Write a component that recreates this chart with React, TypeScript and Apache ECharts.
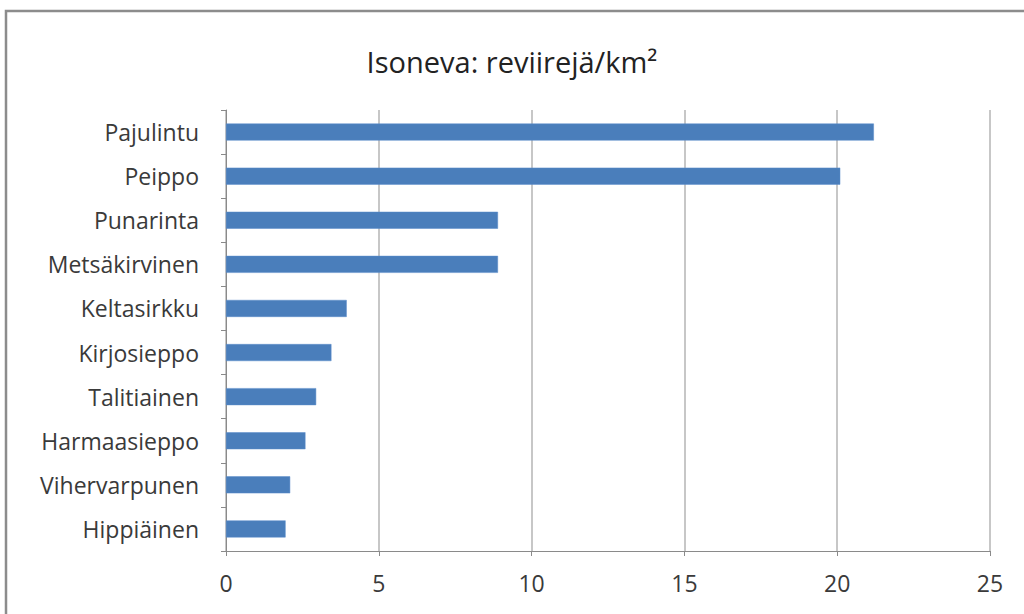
import React, { useEffect, useRef } from "react";
import * as echarts from "echarts";

const categories = [
  "Pajulintu",
  "Peippo",
  "Punarinta",
  "Metsäkirvinen",
  "Keltasirkku",
  "Kirjosieppo",
  "Talitiainen",
  "Harmaasieppo",
  "Vihervarpunen",
  "Hippiäinen",
];
const values = [21.2, 20.1, 8.9, 8.9, 3.95, 3.45, 2.95, 2.6, 2.1, 1.95];
const titleText = "Isoneva: reviirejä/km²";

export default function App() {
  const ref = useRef<HTMLDivElement>(null);
  useEffect(() => {
    if (!ref.current) return;
    const chart = echarts.init(ref.current, undefined, { renderer: "svg" });
    const font = "'Open Sans', 'Noto Sans', sans-serif";
    chart.setOption({
      animation: false,
      backgroundColor: "#ffffff",
      title: {
        text: titleText,
        left: "center",
        top: 42,
        textStyle: { fontFamily: font, fontSize: 29, fontWeight: "normal", color: "#222222" },
      },
      graphic: [
        {
          type: "rect",
          shape: { x: 6, y: 11, width: 1040, height: 640 },
          style: { fill: "none", stroke: "#8c8c8c", lineWidth: 2.5 },
          silent: true,
        },
      ],
      grid: { left: 226, right: 34, top: 110, bottom: 63 },
      xAxis: {
        type: "value",
        min: 0,
        max: 25,
        interval: 5,
        axisLine: { show: true, lineStyle: { color: "#8a8a8a", width: 1 } },
        axisTick: { show: true, length: 5, lineStyle: { color: "#8a8a8a" } },
        splitLine: { show: true, lineStyle: { color: "#b4b4b4", width: 1.5 } },
        axisLabel: { fontFamily: font, fontSize: 23, color: "#3a3a3a", margin: 20 },
      },
      yAxis: {
        type: "category",
        data: categories,
        inverse: true,
        axisLine: { show: true, lineStyle: { color: "#8a8a8a", width: 1 } },
        axisTick: { show: true, length: 5, lineStyle: { color: "#8a8a8a" } },
        axisLabel: { fontFamily: font, fontSize: 23, color: "#3a3a3a", margin: 27 },
      },
      series: [
        {
          type: "bar",
          data: values,
          barWidth: 17,
          itemStyle: { color: "#4A7EBB", borderColor: "#5b8ccb", borderWidth: 0.5 },
        },
      ],
    });
    return () => chart.dispose();
  }, []);
  return (
    <div
      ref={ref}
      style={{ position: "fixed", left: 0, top: 0, width: 1024, height: 614 }}
    />
  );
}
